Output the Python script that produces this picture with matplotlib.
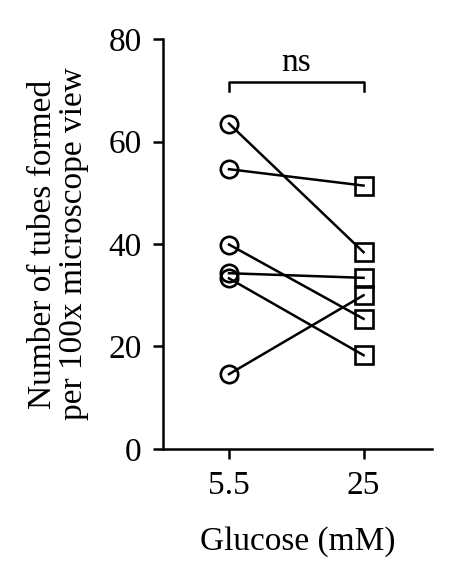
import matplotlib
matplotlib.use("Agg")
import matplotlib.pyplot as plt

categories = ["5.5", "25"]
low_glucose = [63.5, 54.6, 39.9, 34.3, 33.3, 14.6]
high_glucose = [38.4, 51.4, 25.4, 33.4, 18.3, 30.0]
yticks = [0, 20, 40, 60, 80]

plt.rcParams['font.family'] = ['Liberation Serif', 'DejaVu Serif']

fig = plt.figure(figsize=(4.53, 5.78), dpi=100)
ax = fig.add_axes([0.36, 0.2232, 0.594, 0.7093])

for a, b in zip(low_glucose, high_glucose):
    ax.plot([0, 1], [a, b], color='black', lw=1.8, zorder=1)
ax.plot([0]*len(low_glucose), low_glucose, 'o', ms=12.5, mfc='none', mec='black', mew=1.9, zorder=2)
ax.plot([1]*len(high_glucose), high_glucose, 's', ms=12.5, mfc='none', mec='black', mew=1.9, zorder=2)

# significance bracket
ax.plot([0, 0, 1, 1], [69.9, 71.7, 71.7, 69.9], color='black', lw=1.8, clip_on=False)
ax.text(0.5, 73.8, "ns", ha='center', va='baseline', fontsize=24)

ax.set_xlim(-0.49, 1.51)
ax.set_ylim(0, 80)
ax.set_xticks([0, 1])
ax.set_xticklabels(categories)
ax.set_yticks(yticks)
ax.tick_params(direction='out', length=7.5, width=1.8, labelsize=24, pad=8)
for s in ['top', 'right']:
    ax.spines[s].set_visible(False)
for s in ['left', 'bottom']:
    ax.spines[s].set_linewidth(1.8)
ax.set_xlabel("Glucose (mM)", fontsize=24, labelpad=18)
ax.set_ylabel("Number of tubes formed\nper 100x microscope view", fontsize=24, labelpad=14, linespacing=1.0)

fig.savefig("out.png", dpi=100)
